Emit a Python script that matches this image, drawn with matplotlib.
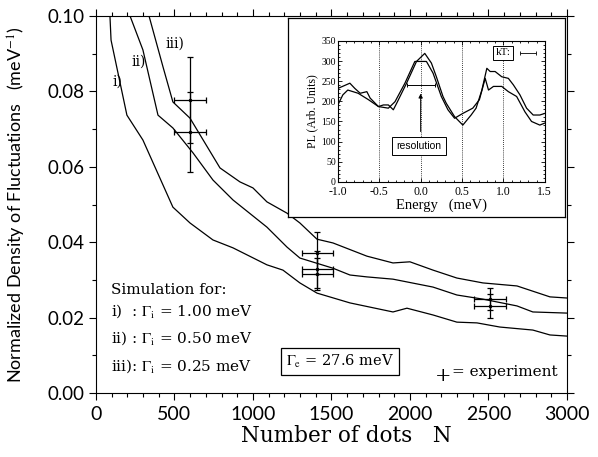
import matplotlib
matplotlib.use("Agg")
import matplotlib.pyplot as plt
from matplotlib.ticker import MultipleLocator

plt.rcParams['mathtext.fontset'] = 'stix'

# ---- main curves (simulation) ----
N_i = [89, 96, 197, 299, 490, 599, 745, 873, 1089, 1191, 1299, 1408, 1618, 1892, 1981, 2147, 2299, 2427, 2573, 2783, 2892, 3000]
D_i = [0.100, 0.0936, 0.0737, 0.0671, 0.0493, 0.0451, 0.0406, 0.0385, 0.034, 0.0326, 0.0292, 0.0265, 0.0239, 0.0215, 0.0225, 0.0207, 0.0188, 0.0186, 0.0175, 0.0167, 0.0154, 0.0151]
N_ii = [217, 299, 395, 490, 618, 745, 873, 1089, 1217, 1299, 1510, 1618, 1726, 1892, 2147, 2299, 2465, 2682, 2783, 3000]
D_ii = [0.100, 0.091, 0.0737, 0.0703, 0.0637, 0.0565, 0.0512, 0.044, 0.0387, 0.0358, 0.0331, 0.0313, 0.0308, 0.0302, 0.0281, 0.026, 0.0249, 0.0231, 0.0215, 0.0212]
N_iii = [338, 427, 490, 599, 790, 917, 1000, 1089, 1217, 1299, 1408, 1510, 1726, 1892, 2000, 2147, 2299, 2465, 2682, 2892, 3000]
D_iii = [0.100, 0.0865, 0.0772, 0.0729, 0.0597, 0.056, 0.0544, 0.0507, 0.0477, 0.0451, 0.0408, 0.0398, 0.0363, 0.0345, 0.0348, 0.0326, 0.0305, 0.0292, 0.0284, 0.0255, 0.0252]

# ---- experiment ----
exp_N = [600, 600, 1410, 1410, 1410, 2510, 2510]
exp_D = [0.0777, 0.0692, 0.0371, 0.0328, 0.0316, 0.0249, 0.0231]
exp_Nerr = [100, 100, 100, 100, 100, 100, 100]
exp_Derr = [0.0114, 0.0106, 0.0056, 0.0049, 0.0043, 0.0030, 0.0032]

# ---- inset PL spectra ----
E_a = [-1.0, -0.855, -0.795, -0.73, -0.65, -0.61, -0.51, -0.45, -0.39, -0.33, -0.29, -0.17, -0.05, 0.05, 0.13, 0.19, 0.27, 0.31, 0.41, 0.51, 0.61, 0.67, 0.74, 0.80, 0.84, 0.90, 0.98, 1.06, 1.12, 1.20, 1.28, 1.36, 1.44, 1.5]
PL_a = [232, 245, 232, 220, 224, 208, 187, 191, 191, 179, 195, 245, 299, 319, 295, 261, 212, 195, 162, 141, 166, 183, 228, 282, 274, 274, 261, 257, 241, 216, 183, 166, 166, 170]
E_b = [-1.0, -0.94, -0.88, -0.755, -0.63, -0.51, -0.39, -0.31, -0.19, -0.07, -0.01, 0.07, 0.15, 0.25, 0.33, 0.41, 0.51, 0.63, 0.71, 0.78, 0.82, 0.88, 0.98, 1.06, 1.16, 1.26, 1.34, 1.44, 1.5]
PL_b = [191, 216, 228, 220, 204, 187, 183, 199, 245, 299, 299, 299, 270, 212, 179, 158, 170, 183, 204, 257, 228, 237, 237, 224, 212, 174, 150, 141, 146]

fig = plt.figure(figsize=(5.98, 4.57), dpi=100)
ax = fig.add_axes([0.1605, 0.140, 0.7875, 0.825])

for N, D in [(N_i, D_i), (N_ii, D_ii), (N_iii, D_iii)]:
    ax.plot(N, D, color='black', lw=0.9)

ax.errorbar(exp_N, exp_D, xerr=exp_Nerr, yerr=exp_Derr, fmt='.', color='black',
            ms=3, elinewidth=0.9, capsize=2, capthick=0.9)

ax.set_xlim(0, 3000)
ax.set_ylim(0.0, 0.10)
ax.xaxis.set_major_locator(MultipleLocator(500))
ax.xaxis.set_minor_locator(MultipleLocator(100))
ax.yaxis.set_major_locator(MultipleLocator(0.02))
ax.yaxis.set_minor_locator(MultipleLocator(0.01))
ax.yaxis.set_major_formatter(matplotlib.ticker.FormatStrFormatter('%.2f'))
ax.tick_params(which='both', direction='out', top=True, right=True)
ax.tick_params(which='major', length=5, width=0.8)
ax.tick_params(which='minor', length=3, width=0.8)
ax.tick_params(axis='x', labelsize=14, pad=4)
ax.tick_params(axis='y', labelsize=13.5, pad=3)
for lab in ax.get_xticklabels() + ax.get_yticklabels():
    lab.set_fontfamily('Lato')

ax.set_xlabel('Number of dots   N', fontsize=15.5, family='DejaVu Serif')
ax.xaxis.set_label_coords(0.531, -0.085)
ax.set_ylabel('Normalized Density of Fluctuations   (meV$^{-1}$)', fontsize=13,
              family='Lato')
ax.yaxis.set_label_coords(-0.145, 0.5)

serif = 'DejaVu Serif'
ax.text(105, 0.0825, 'i)', fontsize=10, family=serif, ha='left', va='center')
ax.text(225, 0.0878, 'ii)', fontsize=10, family=serif, ha='left', va='center')
ax.text(440, 0.0926, 'iii)', fontsize=10, family=serif, ha='left', va='center')

ax.text(95, 0.0272, 'Simulation for:', fontsize=11, family=serif, ha='left', va='center')
ax.text(95, 0.0217, 'i)  : $\\Gamma_{\\rm i}$ = 1.00 meV', fontsize=11, family=serif, ha='left', va='center')
ax.text(95, 0.0145, 'ii) : $\\Gamma_{\\rm i}$ = 0.50 meV', fontsize=11, family=serif, ha='left', va='center')
ax.text(95, 0.0072, 'iii): $\\Gamma_{\\rm i}$ = 0.25 meV', fontsize=11, family=serif, ha='left', va='center')

ax.text(1555, 0.0084, '$\\Gamma_{\\rm e}$ = 27.6 meV', fontsize=10.5, family=serif, ha='center', va='center',
        bbox=dict(boxstyle='square,pad=0.35', fc='white', ec='black', lw=0.9))
ax.text(2210, 0.0045, '+', fontsize=14, family=serif, ha='center', va='center')
ax.text(2270, 0.0057, '= experiment', fontsize=11, family=serif, ha='left', va='center')

# ---- inset frame ----
frame = fig.add_axes([0.4816, 0.525, 0.463, 0.435])
frame.set_xticks([])
frame.set_yticks([])
frame.set_facecolor('white')
for s in frame.spines.values():
    s.set_linewidth(0.9)

ins = fig.add_axes([0.565, 0.602, 0.346, 0.3085])
ins.plot(E_a, PL_a, color='black', lw=0.9)
ins.plot(E_b, PL_b, color='black', lw=0.9)
ins.set_xlim(-1.0, 1.5)
ins.set_ylim(0, 350)
for xv in [-0.5, 0.0, 0.5, 1.0]:
    ins.axvline(xv, color='black', lw=0.6, ls=(0, (1, 1.5)))
ins.xaxis.set_major_locator(MultipleLocator(0.5))
ins.xaxis.set_minor_locator(MultipleLocator(0.1))
ins.yaxis.set_major_locator(MultipleLocator(50))
ins.yaxis.set_minor_locator(MultipleLocator(10))
ins.xaxis.set_major_formatter(matplotlib.ticker.FormatStrFormatter('%.1f'))
ins.tick_params(which='both', direction='in', top=True, right=True, width=0.6)
ins.tick_params(which='major', length=3)
ins.tick_params(which='minor', length=1.5)
ins.tick_params(axis='x', labelsize=8.5, pad=3)
ins.tick_params(axis='y', labelsize=7, pad=1.5)
for lab in ins.get_xticklabels() + ins.get_yticklabels():
    lab.set_fontfamily('Liberation Serif')
ins.set_xlabel('Energy   (meV)', fontsize=10.5, family='Liberation Serif', labelpad=0)
ins.set_ylabel('PL (Arb. Units)', fontsize=8.5, family='Liberation Serif', labelpad=2)

# resolution marker
ins.errorbar([0.0], [240], xerr=[[0.17], [0.17]], fmt='none', color='black',
             elinewidth=0.7, capsize=1.5, capthick=0.7)
ins.annotate('', xy=(0.0, 226), xytext=(0.0, 118),
             arrowprops=dict(arrowstyle='-|>', color='black', lw=0.7, mutation_scale=6))
ins.text(-0.02, 89, 'resolution', fontsize=7.5, family='Liberation Sans', ha='center', va='center',
         bbox=dict(boxstyle='square,pad=0.4', fc='white', ec='black', lw=0.7))
ins.text(0.995, 320, 'kT:', fontsize=8, family='Liberation Serif', ha='center', va='center',
         bbox=dict(boxstyle='square,pad=0.25', fc='white', ec='black', lw=0.7))
ins.errorbar([1.295], [320], xerr=[[0.095], [0.095]], fmt='none', color='black',
             elinewidth=0.6, capsize=1.5, capthick=0.6)

fig.savefig('out.png', dpi=100)
